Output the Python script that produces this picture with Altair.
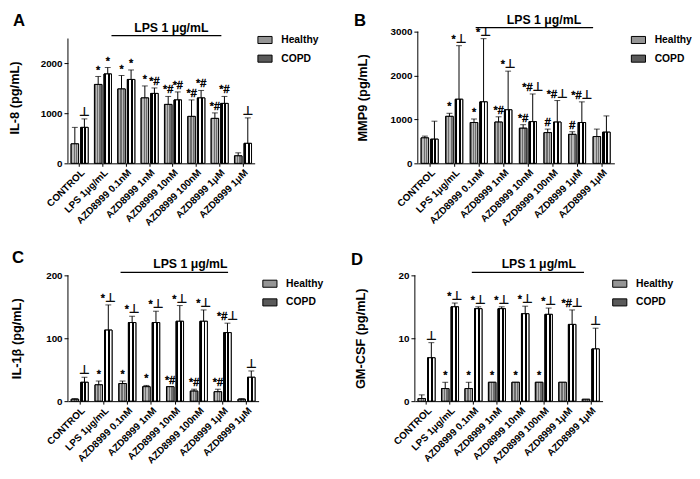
import json
import altair as alt
import pandas as pd

FONT = "Liberation Sans"
SYM_FONT = "Liberation Sans, Noto Sans CJK JP"

categories = ["CONTROL", "LPS 1\u03bcg/mL", "AZD8999 0.1nM", "AZD8999 1nM",
              "AZD8999 10nM", "AZD8999 100nM", "AZD8999 1\u03bcM", "AZD8999 1\u03bcM"]
groups = ["Healthy", "COPD"]

# Panel A: IL-8
il8_healthy = [390, 1580, 1490, 1310, 1180, 940, 900, 150]
il8_healthy_err = [330, 160, 270, 240, 160, 330, 110, 60]
il8_copd = [720, 1790, 1680, 1400, 1270, 1310, 1200, 400]
il8_copd_err = [170, 130, 190, 110, 160, 150, 140, 510]
il8_healthy_sig = ["", "*", "*", "*", "*#", "*#", "*#", ""]
il8_copd_sig = ["\u22a5", "*", "*", "*#", "*#", "*#", "*#", "\u22a5"]

# Panel B: MMP9
mmp9_healthy = [580, 1070, 930, 940, 800, 700, 660, 610]
mmp9_healthy_err = [40, 70, 80, 120, 80, 80, 60, 170]
mmp9_copd = [550, 1460, 1400, 1220, 950, 940, 930, 710]
mmp9_copd_err = [410, 1220, 1440, 880, 630, 490, 470, 370]
mmp9_healthy_sig = ["", "*", "*", "*#", "*#", "#", "#", ""]
mmp9_copd_sig = ["", "*\u22a5", "*\u22a5", "*\u22a5", "*#\u22a5", "*#\u22a5", "*#\u22a5", ""]

# Panel C: IL-1beta
il1b_healthy = [3, 26, 28, 23, 23, 16, 15, 3]
il1b_healthy_err = [1, 6, 4, 2, 0, 3, 4, 1]
il1b_copd = [30, 113, 125, 125, 127, 127, 109, 38]
il1b_copd_err = [8, 40, 10, 18, 25, 18, 15, 10]
il1b_healthy_sig = ["", "*", "*", "*", "*#", "*#", "*#", ""]
il1b_copd_sig = ["\u22a5", "*\u22a5", "*\u22a5", "*\u22a5", "*\u22a5", "*\u22a5", "*#\u22a5", "\u22a5"]

# Panel D: GM-CSF
gmcsf_healthy = [0.4, 2.0, 2.0, 3.0, 3.0, 3.0, 3.0, 0.3]
gmcsf_healthy_err = [0.6, 1.0, 1.0, 0, 0, 0, 0, 0]
gmcsf_copd = [6.9, 15.0, 14.7, 14.7, 13.9, 13.8, 12.2, 8.3]
gmcsf_copd_err = [2.4, 0.6, 0.3, 0.3, 1.2, 1.0, 2.3, 3.3]
gmcsf_healthy_sig = ["", "*", "*", "*", "*", "*", "", ""]
gmcsf_copd_sig = ["\u22a5", "*\u22a5", "*\u22a5", "*\u22a5", "*\u22a5", "*\u22a5", "*#\u22a5", "\u22a5"]

lps_label = "LPS 1 \u03bcg/mL"


def stripes(colors, n):
    stops = []
    for k in range(n):
        c = colors[k % 2]
        stops.append({"offset": k / n, "color": c})
        stops.append({"offset": (k + 1) / n, "color": c})
    return {"gradient": "linear", "x1": 0, "y1": 0, "x2": 1, "y2": 0, "stops": stops}


grad_healthy = stripes(["#6e6e6e", "#b8b8b8"], 6)
grad_copd = stripes(["#000000", "#ffffff"], 4)

label_expr = json.dumps(categories, ensure_ascii=False) + "[datum.value]"
rect_path = "M-0.9,-0.45L0.9,-0.45L0.9,0.45L-0.9,0.45Z"


def panel(letter, ytitle, ymax, ydom, ystep, hv, he, cv, ce, hs, cs, width, height,
          letter_x, letter_y, title_x, lps_y, lps_pos, legend_offset):
    rows = []
    for i in range(len(categories)):
        rows.append({"cat": i, "group": "Healthy", "value": hv[i], "top": hv[i] + he[i], "sig": hs[i]})
        rows.append({"cat": i, "group": "COPD", "value": cv[i], "top": cv[i] + ce[i], "sig": cs[i]})
    df = pd.DataFrame(rows)

    xenc = alt.X("cat:O", title=None,
                 scale=alt.Scale(paddingInner=0.27, paddingOuter=0.135),
                 axis=alt.Axis(labelExpr=label_expr, labelAngle=-45, labelFontSize=10,
                               labelFontWeight="bold", labelFont=FONT, tickSize=3,
                               labelPadding=1, labelColor="black"))
    xoff = alt.XOffset("group:N", sort=groups,
                       scale=alt.Scale(domain=groups, paddingInner=0.22))
    yenc = alt.Y("value:Q", title=ytitle,
                 scale=alt.Scale(domain=[0, ydom], nice=False),
                 axis=alt.Axis(values=list(range(0, ymax + 1, ystep)), format="d",
                               labelFontSize=10, domain=False,
                               labelFontWeight="bold", labelFont=FONT, tickSize=4,
                               titleFontSize=13, titleFontWeight="bold", titleFont=FONT,
                               titleX=title_x, titleColor="black", labelColor="black"))

    base = alt.Chart(df)
    bars = base.mark_bar(stroke="black", strokeWidth=1).encode(
        x=xenc, xOffset=xoff, y=yenc,
        fill=alt.Fill("group:N", sort=groups,
                      scale=alt.Scale(domain=groups, range=["#959595", "#5a5a5a"]),
                      legend=alt.Legend(title=None, orient="right", offset=legend_offset,
                                        padding=0, symbolType=rect_path, symbolSize=256,
                                        symbolStrokeColor="black", symbolStrokeWidth=1,
                                        symbolOpacity=1,
                                        labelFontSize=10.5, labelFontWeight="bold",
                                        labelFont=FONT, labelColor="black",
                                        rowPadding=4, labelOffset=8)),
    )
    pattern = base.mark_bar(stroke="black", strokeWidth=1).encode(
        x=alt.X("cat:O"), xOffset=alt.XOffset("group:N", sort=groups), y=alt.Y("value:Q"),
        fill={"condition": {"test": "datum.group === 'Healthy'", "value": grad_healthy},
              "value": grad_copd},
    )
    err = base.transform_filter("datum.top > datum.value").mark_rule(
        color="black", strokeWidth=1).encode(
        x=alt.X("cat:O"), xOffset=alt.XOffset("group:N", sort=groups),
        y=alt.Y("value:Q"), y2="top:Q")
    caps = base.transform_filter("datum.top > datum.value").mark_tick(
        color="black", thickness=1, size=6, orient="horizontal").encode(
        x=alt.X("cat:O"), xOffset=alt.XOffset("group:N", sort=groups), y=alt.Y("top:Q"))
    ann = base.mark_text(baseline="bottom", dy=-1, fontSize=11, font=SYM_FONT,
                         fill="black", stroke="black", strokeWidth=0.45).encode(
        x=alt.X("cat:O"), xOffset=alt.XOffset("group:N", sort=groups),
        y=alt.Y("top:Q"), text="sig:N")

    axis_line = alt.Chart(pd.DataFrame({"y0": [0], "y1": [ymax]})).mark_rule(
        color="black", strokeWidth=1).encode(
        x=alt.value(0), y=alt.Y("y0:Q"), y2="y1:Q")

    (sc, sb), (ec, eb), (mc, mb) = lps_pos
    lps = pd.DataFrame({"start": [sc], "end": [ec], "mid": [mc], "label": [lps_label]})
    lps_rule = alt.Chart(lps).mark_rule(color="black", strokeWidth=1.2).encode(
        x=alt.X("start:O", bandPosition=sb), x2=alt.X2("end:O", bandPosition=eb),
        y=alt.value(lps_y))
    lps_text = alt.Chart(lps).mark_text(fontSize=12.5, fontWeight="bold", font=FONT,
                                        baseline="alphabetic", color="black").encode(
        x=alt.X("mid:O", bandPosition=mb), y=alt.value(lps_y - 4), text="label:N")

    let = pd.DataFrame({"t": [letter]})
    letter_mark = alt.Chart(let).mark_text(align="left", baseline="top", fontSize=17,
                                           fontWeight="bold", font=FONT,
                                           color="black").encode(
        x=alt.value(letter_x), y=alt.value(letter_y), text="t:N")

    return alt.layer(bars, pattern, err, caps, ann, axis_line, lps_rule, lps_text,
                     letter_mark).properties(width=width, height=height)


pA = panel("A", "IL-8 (pg/mL)", 2500, 2500 * 134 / 127, 500, il8_healthy, il8_healthy_err,
           il8_copd, il8_copd_err, il8_healthy_sig, il8_copd_sig, 190, 134, -56, -19, -47, 4,
           ((1, 1.0), (6, 0.6), (4, 0.4)), 2)
pB = panel("B", "MMP9 (pg/mL)", 3000, 3000, 1000, mmp9_healthy, mmp9_healthy_err, mmp9_copd,
           mmp9_copd_err, mmp9_healthy_sig, mmp9_copd_sig, 200, 134, -65, -19, -49, -4,
           ((2, 0.3), (7, 0.0), (5, 0.0)), 16)
pC = panel("C", "IL-1\u03b2 (pg/mL)", 200, 200, 50, il1b_healthy, il1b_healthy_err, il1b_copd,
           il1b_copd_err, il1b_healthy_sig, il1b_copd_sig, 194, 128, -57, -26, -45, -3,
           ((2, 0.1), (6, 0.8), (5, 0.0)), 3)
pD = panel("D", "GM-CSF (pg/mL)", 20, 20, 5, gmcsf_healthy, gmcsf_healthy_err, gmcsf_copd,
           gmcsf_copd_err, gmcsf_healthy_sig, gmcsf_copd_sig, 191, 128, -65, -24, -48, -3,
           ((2, 0.4), (7, 0.1), (5, 0.2)), 9)

row1 = alt.hconcat(pA, pB, spacing=36).resolve_scale(fill="independent").resolve_legend(fill="independent")
row2 = alt.hconcat(pC, pD, spacing=28).resolve_scale(fill="independent").resolve_legend(fill="independent")

chart = alt.vconcat(row1, row2, spacing=21).resolve_scale(
    fill="independent").resolve_legend(fill="independent").properties(
    padding={"left": 0, "top": 0, "right": 0, "bottom": 0},
    background="white",
).configure(font=FONT).configure_axis(
    grid=False, domainColor="black", tickColor="black", domainWidth=1, tickWidth=1
).configure_view(stroke=None)

chart.save("out.html", embed_options={"renderer": "svg", "actions": False})
